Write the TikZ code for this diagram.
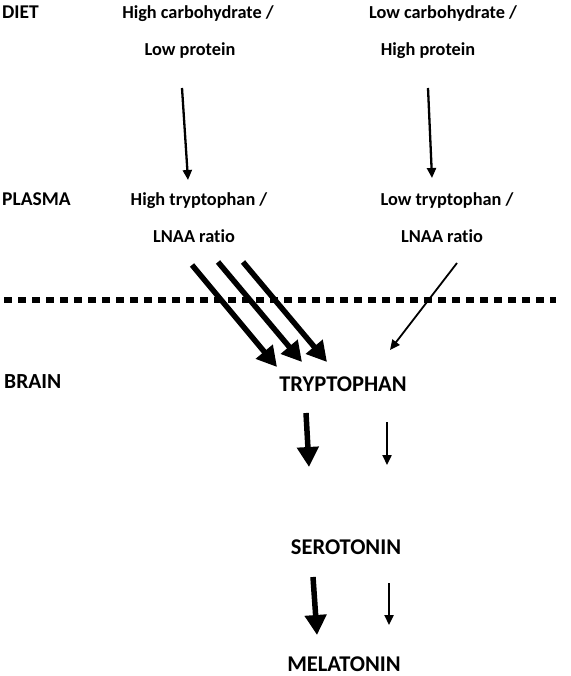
\documentclass[tikz,border=0pt]{standalone}
\usepackage{fontspec}
\setmainfont[Ligatures=NoCommon]{Carlito}
\usepackage{tikz}
\usetikzlibrary{arrows.meta}

\begin{document}
\begin{tikzpicture}[x=1pt,y=-1pt,
                    every node/.style={font=\fontsize{18.3}{22}\selectfont\bfseries,inner sep=0pt,anchor=base},
                    label node/.style={anchor=base west,font=\fontsize{19.5}{22}\selectfont\bfseries},
                    stage node/.style={font=\fontsize{22.5}{26}\selectfont\bfseries},
                    thin arrow/.style={line width=2.3pt,-{Triangle[length=10pt,width=9pt]}},
                    fat arrow/.style={line width=5.5pt,-{Triangle[length=20pt,width=21pt]}}]
  \useasboundingbox (0,0) rectangle (570,676);

  \node[label node] (diet) at (2,19) {DIET};
  \node[label node] (plasma) at (2,206) {PLASMA};
  \node[label node,font=\fontsize{21.5}{24}\selectfont\bfseries] (brain) at (4,388) {BRAIN};

  \node (hc) at (198,19) {High carbohydrate /};
  \node (lp) at (190,56) {Low protein};
  \node (lc) at (443,19) {Low carbohydrate /};
  \node (hp) at (428,56) {High protein};

  \node (ht) at (199,206) {High tryptophan /};
  \node (ratioL) at (194,242) {LNAA ratio};
  \node (lt) at (447,206) {Low tryptophan /};
  \node (ratioR) at (442,242) {LNAA ratio};

  \node[stage node] (tryp) at (343,391) {TRYPTOPHAN};
  \node[stage node] (sero) at (346,554) {SEROTONIN};
  \node[stage node] (mel) at (344,671) {MELATONIN};

  % blood-brain barrier
  \coordinate (bbbL) at (4,300);
  \coordinate (bbbR) at (556,300);
  \draw[line width=6pt,dash pattern=on 8pt off 6pt] (bbbL) -- (bbbR);

  % diet to plasma
  \draw[thin arrow] ([shift={(-8,32)}]lp.base) -- ([shift={(-11,-26)}]ht.base);
  \draw[thin arrow] ([shift={(0,32)}]hp.base) -- ([shift={(-15,-28)}]lt.base);

  % plasma to brain
  \draw[fat arrow] ([shift={(-2,23)}]ratioL.base) -- ([shift={(-66,-24)}]tryp.base);
  \draw[fat arrow] ([shift={(24,20)}]ratioL.base) -- ([shift={(-41,-29)}]tryp.base);
  \draw[fat arrow] ([shift={(49,20)}]ratioL.base) -- ([shift={(-16,-29)}]tryp.base);
  \draw[thin arrow,line width=1.8pt] ([shift={(15,21)}]ratioR.base) -- ([shift={(47,-41)}]tryp.base);

  % brain
  \draw[fat arrow,line width=5.5pt] ([shift={(-37,22)}]tryp.base) -- ([shift={(-37,-87)}]sero.base);
  \draw[thin arrow] ([shift={(44,31)}]tryp.base) -- ([shift={(41,-89)}]sero.base);
  \draw[fat arrow,line width=5.5pt] ([shift={(-33,23)}]sero.base) -- ([shift={(-27,-36)}]mel.base);
  \draw[thin arrow] ([shift={(43,29)}]sero.base) -- ([shift={(45,-46)}]mel.base);
\end{tikzpicture}
\end{document}
